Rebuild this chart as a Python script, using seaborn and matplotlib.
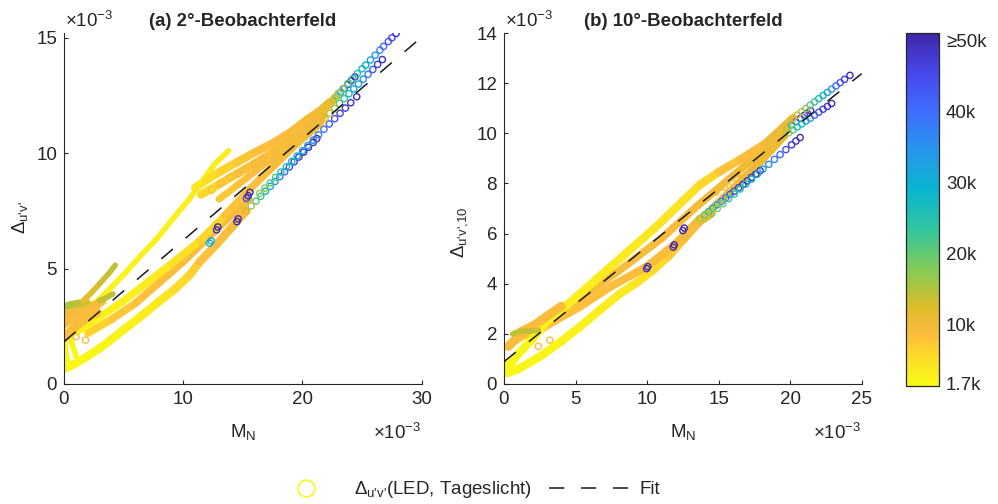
import matplotlib
matplotlib.use("Agg")
import matplotlib as mpl
import matplotlib.pyplot as plt
import numpy as np
import pandas as pd
import seaborn as sns
from matplotlib.colors import LinearSegmentedColormap, Normalize
from matplotlib.lines import Line2D

# ---------------- data: panel (a), 2° observer ----------------
# M_N and Δu'v' in units of 1e-3, CCT in K
a_spike_x = [0.4, 1.5, 2.8, 4.0, 5.3, 6.5, 7.8, 9.2, 10.5, 11.6, 12.6, 13.8]
a_spike_y = [2.9, 3.2, 3.6, 4.2, 4.9, 5.6, 6.3, 7.2, 8.0, 8.8, 9.5, 10.1]
a_spike_k = [2200, 2300, 2400, 2500, 2600, 2700, 2800, 2900, 3000, 3100, 3200, 3300]

a_up_x = [11.0, 12.0, 13.1, 14.5, 15.9, 17.6, 19.0, 20.4, 21.4, 22.3]
a_up_y = [8.5, 8.85, 9.2, 9.6, 10.0, 10.45, 10.9, 11.45, 11.8, 12.2]
a_up_k = [3500, 4500, 6000, 7000, 8000, 8500, 9000, 9500, 10000, 11000]

a_up2_x = [11.5, 13.0, 14.5, 16.0, 17.6, 19.0, 20.5, 21.6, 22.6]
a_up2_y = [8.2, 8.65, 9.1, 9.55, 10.05, 10.6, 11.25, 11.8, 12.3]
a_up2_k = [5000, 6500, 7500, 8500, 9000, 9500, 10000, 10500, 11000]

a_up3_x = [13.0, 14.5, 16.0, 17.5, 19.0, 20.5, 21.8]
a_up3_y = [8.0, 8.6, 9.2, 9.8, 10.4, 11.0, 11.6]
a_up3_k = [7000, 8000, 8500, 9000, 9500, 10000, 10500]

a_mid_x = [0.3, 1.5, 3.0, 5.0, 7.0, 9.0, 11.4, 13.5, 15.5, 17.5, 19.5, 21.5]
a_mid_y = [2.1, 2.4, 2.9, 3.6, 4.4, 5.2, 6.2, 7.3, 8.4, 9.4, 10.4, 11.3]
a_mid_k = [2000, 2200, 2500, 2800, 3200, 4000, 5500, 7000, 8500, 9000, 9500, 10000]

a_mid2_x = [2.0, 4.0, 6.0, 8.0, 10.0, 12.0, 14.0, 15.5]
a_mid2_y = [2.2, 2.8, 3.5, 4.4, 5.3, 6.3, 7.3, 8.0]
a_mid2_k = [6000, 7000, 8000, 8500, 9000, 9000, 9500, 10000]

a_low_x = [0.2, 1.0, 1.9, 3.0, 3.9, 5.0, 6.4, 7.8, 9.2, 10.5, 11.4, 12.8, 14.0, 15.3]
a_low_y = [0.68, 0.9, 1.18, 1.55, 1.9, 2.35, 2.91, 3.5, 4.07, 4.7, 5.3, 6.05, 6.75, 7.5]
a_low_k = [1700, 1800, 1900, 2000, 2200, 2500, 3000, 3500, 4500, 6000, 7500, 8500, 9000, 10000]

a_or1_x = [0.0, 0.8, 1.6, 2.4, 3.2]
a_or1_y = [2.6, 2.9, 3.1, 3.3, 3.6]
a_or1_k = [9000, 9000, 9000, 9000, 9000]

a_or2_x = [0.0, 0.6, 1.2, 2.0, 2.8]
a_or2_y = [2.0, 2.3, 2.6, 2.9, 3.1]
a_or2_k = [8000, 8500, 9000, 9000, 9000]

a_or3_x = [0.0, 0.7, 1.4, 2.1]
a_or3_y = [3.0, 3.2, 3.35, 3.45]
a_or3_k = [10000, 10000, 9500, 9500]

a_grn_x = [0.0, 0.6, 1.2, 1.9]
a_grn_y = [3.35, 3.45, 3.5, 3.55]
a_grn_k = [15000, 15000, 14000, 13000]

a_grn2_x = [3.0, 3.6, 4.1]
a_grn2_y = [3.6, 3.75, 3.9]
a_grn2_k = [14000, 14000, 14000]

a_olive_x = [1.6, 2.3, 3.0, 3.7, 4.3]
a_olive_y = [3.6, 3.95, 4.35, 4.75, 5.15]
a_olive_k = [11000, 12000, 13000, 13500, 14000]

a_loop_x = [0.05, 0.1, 0.25, 0.45, 0.3, 0.1]
a_loop_y = [2.3, 1.6, 1.1, 0.8, 0.7, 0.75]
a_loop_k = [2000, 1900, 1800, 1700, 1700, 1700]

a_loop2_x = [0.5, 0.7, 0.9, 1.0]
a_loop2_y = [2.1, 1.7, 1.4, 1.2]
a_loop2_k = [2500, 2200, 2000, 1900]

# loose orange markers scattered under the upper band
a_loose_x = [12.4, 13.2, 13.9, 14.6, 15.2, 16.0, 16.7, 1.8, 1.0]
a_loose_y = [8.4, 8.7, 8.95, 9.1, 9.3, 9.5, 9.75, 1.9, 2.05]
a_loose_k = [8500, 9000, 9000, 9500, 9500, 10000, 10000, 9000, 9000]

# high-CCT ends, drawn as single markers
a_tipA_x = [22.3, 22.7, 23.0, 23.4, 23.8, 24.2, 24.6, 25.0, 25.3, 25.7, 26.1, 26.5, 26.8, 27.2, 27.5, 27.85]
a_tipA_y = [12.20, 12.41, 12.58, 12.79, 13.01, 13.22, 13.44, 13.65, 13.81, 14.03, 14.24, 14.46, 14.62, 14.83, 14.99, 15.18]
a_tipA_k = [11000, 13000, 15000, 18000, 20000, 22000, 25000, 27000, 29000, 31000, 34000, 37000, 40000, 43000, 46000, 50000]

a_tipB_x = [21.5, 21.9, 22.3, 22.7, 23.1, 23.5, 23.9, 24.3, 24.7, 25.1, 25.5, 25.9, 26.3, 26.7]
a_tipB_y = [11.30, 11.51, 11.72, 11.93, 12.15, 12.36, 12.57, 12.78, 12.99, 13.20, 13.41, 13.62, 13.84, 14.05]
a_tipB_k = [10000, 12000, 14000, 17000, 20000, 23000, 26000, 29000, 32000, 35000, 39000, 43000, 47000, 50000]

a_tipC_x = [22.6, 22.9, 23.2, 23.5, 23.8, 24.1, 24.4]
a_tipC_y = [12.30, 12.47, 12.63, 12.80, 12.97, 13.13, 13.30]
a_tipC_k = [14000, 22000, 32000, 42000, 47000, 49000, 50000]

a_tipD_x = [16.4, 16.85, 17.3, 17.75, 18.2, 18.65, 19.1, 19.55, 20.0, 20.45, 20.9, 21.35, 21.8, 22.25, 22.7, 23.15, 23.6, 24.05, 24.55]
a_tipD_y = [8.25, 8.48, 8.71, 8.95, 9.18, 9.41, 9.64, 9.87, 10.10, 10.33, 10.56, 10.79, 11.03, 11.26, 11.49, 11.72, 11.95, 12.18, 12.44]
a_tipD_k = [16000, 18000, 20000, 22000, 24000, 26000, 28000, 30000, 32000, 34000, 36000, 38000, 40000, 42000, 44000, 46000, 48000, 49000, 50000]

a_tipE_x = [15.3, 15.7, 16.1, 16.5, 16.9, 17.3, 17.7, 18.1, 18.5, 18.9, 19.3, 19.7, 20.1, 20.5, 20.9, 21.2]
a_tipE_y = [7.50, 7.71, 7.92, 8.13, 8.35, 8.56, 8.77, 8.98, 9.19, 9.40, 9.62, 9.83, 10.04, 10.25, 10.46, 10.63]
a_tipE_k = [12000, 16000, 20000, 24000, 28000, 31000, 34000, 38000, 42000, 45000, 47000, 48000, 49000, 50000, 50000, 50000]

a_dots_x = [12.2, 12.35, 12.8, 12.9, 14.5, 14.6, 15.3, 15.45, 15.6]
a_dots_y = [6.1, 6.2, 6.67, 6.8, 7.03, 7.15, 8.04, 8.15, 8.3]
a_dots_k = [30000, 32000, 50000, 50000, 50000, 50000, 45000, 50000, 50000]

a_fit_x = [0.0, 30.0]
a_fit_y = [1.83, 15.02]

# ---------------- data: panel (b), 10° observer ----------------
b_up_x = [0.2, 1.0, 2.0, 3.0, 4.5, 6.5, 8.5, 10.5, 12.5, 13.7, 15.0, 16.5, 18.3, 20.2]
b_up_y = [0.6, 1.2, 1.8, 2.5, 3.2, 4.2, 5.2, 6.2, 7.3, 7.95, 8.45, 8.95, 9.6, 10.6]
b_up_k = [1800, 2000, 2200, 2500, 2800, 3200, 3600, 4000, 4500, 5000, 7000, 8500, 9500, 11000]

b_mid_x = [0.4, 1.5, 3.0, 5.3, 7.5, 10.0, 12.0, 14.0, 16.0, 18.0, 19.6]
b_mid_y = [1.6, 1.95, 2.5, 3.1, 3.9, 4.7, 5.6, 6.7, 7.8, 8.9, 9.9]
b_mid_k = [6000, 7000, 7500, 8000, 8500, 9000, 9000, 9500, 10000, 10500, 11000]

b_mid2_x = [0.8, 2.5, 5.0, 8.0, 11.0, 13.5, 16.0, 18.3, 19.8]
b_mid2_y = [2.0, 2.5, 3.3, 4.5, 5.8, 7.1, 8.3, 9.4, 10.2]
b_mid2_k = [8000, 8500, 9000, 9000, 9000, 9500, 10000, 10500, 11000]

b_low_x = [0.2, 1.0, 2.5, 4.0, 5.3, 6.7, 8.1, 9.3, 10.4, 11.5, 12.6, 13.7, 14.5]
b_low_y = [0.43, 0.6, 1.09, 1.7, 2.28, 2.95, 3.6, 4.05, 4.53, 5.1, 5.8, 6.5, 6.8]
b_low_k = [1700, 1800, 2000, 2300, 2600, 3000, 3500, 4000, 5000, 6500, 8000, 10000, 14000]

b_low2_x = [1.8, 3.5, 5.3, 7.5, 9.97, 12.0, 13.7]
b_low2_y = [1.9, 2.5, 3.07, 3.9, 4.66, 5.6, 6.6]
b_low2_k = [8000, 8500, 8500, 9000, 9000, 9500, 10000]

b_grn_x = [0.6, 1.2, 1.8, 2.4]
b_grn_y = [2.0, 2.1, 2.1, 2.15]
b_grn_k = [14000, 14000, 14000, 13000]

b_or_x = [0.3, 1.0, 2.0, 3.0, 4.0]
b_or_y = [1.5, 1.9, 2.3, 2.7, 3.1]
b_or_k = [9000, 9000, 9000, 9000, 9000]

b_foot_x = [0.0, 0.2, 0.5, 0.8]
b_foot_y = [0.9, 0.5, 0.45, 0.5]
b_foot_k = [1800, 1700, 1700, 1700]

b_loose_x = [14.8, 15.4, 16.0, 16.6, 2.4, 3.2]
b_loose_y = [7.65, 7.85, 8.0, 8.2, 1.5, 1.75]
b_loose_k = [9000, 9500, 9500, 10000, 9000, 9000]

b_tipA_x = [20.2, 20.5, 20.8, 21.1, 21.4, 21.7, 22.0, 22.3, 22.6, 22.9, 23.2, 23.5, 23.8, 24.18]
b_tipA_y = [10.60, 10.73, 10.86, 10.99, 11.12, 11.25, 11.38, 11.51, 11.63, 11.76, 11.89, 12.02, 12.15, 12.31]
b_tipA_k = [11000, 13000, 15000, 17000, 20000, 23000, 26000, 29000, 32000, 35000, 39000, 43000, 47000, 50000]

b_tipB_x = [19.6, 19.9, 20.2, 20.5, 20.8, 21.1, 21.4, 21.7, 22.0, 22.3, 22.6, 22.9]
b_tipB_y = [9.90, 10.02, 10.13, 10.25, 10.37, 10.49, 10.60, 10.72, 10.84, 10.96, 11.07, 11.19]
b_tipB_k = [12000, 16000, 20000, 24000, 28000, 32000, 36000, 40000, 44000, 47000, 49000, 50000]

b_tipC_x = [19.8, 20.1, 20.4, 20.7, 21.0, 21.2, 21.43]
b_tipC_y = [10.20, 10.33, 10.46, 10.59, 10.72, 10.80, 10.90]
b_tipC_k = [14000, 25000, 38000, 45000, 48000, 49000, 50000]

b_tipD_x = [14.5, 14.9, 15.3, 15.7, 16.1, 16.5, 16.9, 17.3, 17.7, 18.1, 18.5, 18.9, 19.3, 19.7, 20.1, 20.4, 20.7]
b_tipD_y = [6.80, 7.00, 7.19, 7.39, 7.58, 7.78, 7.98, 8.17, 8.37, 8.57, 8.76, 8.96, 9.15, 9.35, 9.54, 9.69, 9.83]
b_tipD_k = [16000, 18000, 20000, 22000, 24000, 26000, 28000, 30000, 32000, 34000, 36000, 38000, 41000, 44000, 47000, 49000, 50000]

b_tipE_x = [13.7, 14.0, 14.3, 14.6, 14.9, 15.2, 15.5, 15.8, 16.1, 16.4, 16.7, 17.0, 17.3, 17.6, 17.9]
b_tipE_y = [6.60, 6.74, 6.87, 7.01, 7.15, 7.28, 7.42, 7.56, 7.69, 7.83, 7.96, 8.10, 8.24, 8.37, 8.51]
b_tipE_k = [16000, 20000, 24000, 28000, 32000, 36000, 40000, 43000, 46000, 48000, 49000, 50000, 50000, 50000, 50000]

b_dots_x = [9.97, 10.05, 11.83, 11.9, 12.5, 12.6]
b_dots_y = [4.6, 4.68, 5.46, 5.55, 6.12, 6.22]
b_dots_k = [50000, 50000, 50000, 50000, 50000, 50000]

b_fit_x = [0.0, 25.0]
b_fit_y = [0.89, 12.38]

# colorbar ticks
cct_ticks = [1700, 10000, 20000, 30000, 40000, 50000]
cct_labels = ["1.7k", "10k", "20k", "30k", "40k", "\u226550k"]
cct_min, cct_max = 1300, 51000

# ---------------- style ----------------
sns.set_theme(style="white")
plt.rcParams["font.family"] = ["Liberation Sans", "DejaVu Sans"]
plt.rcParams["mathtext.fontset"] = "custom"
plt.rcParams["mathtext.rm"] = "Liberation Sans"
plt.rcParams["mathtext.it"] = "Liberation Sans:italic"
plt.rcParams["mathtext.bf"] = "Liberation Sans:bold"
plt.rcParams["mathtext.sf"] = "Liberation Sans"
plt.rcParams["lines.scale_dashes"] = False

FS = 13.5
INK = "0.15"

# parula-like colour ramp, reversed (yellow = low CCT, dark blue = high CCT)
parula_pts = [
    (0.000, (0.2422, 0.1504, 0.6603)),
    (0.111, (0.2803, 0.2782, 0.9221)),
    (0.222, (0.2440, 0.4358, 0.9988)),
    (0.333, (0.1540, 0.5902, 0.9218)),
    (0.444, (0.0297, 0.7082, 0.8163)),
    (0.556, (0.1938, 0.7758, 0.6251)),
    (0.667, (0.5044, 0.7993, 0.3480)),
    (0.778, (0.8634, 0.7406, 0.1596)),
    (0.825, (0.9490, 0.7296, 0.2164)),
    (0.857, (0.9935, 0.7441, 0.2394)),
    (0.873, (0.9990, 0.7653, 0.2216)),
    (0.889, (0.9892, 0.8136, 0.1885)),
    (1.000, (0.9769, 0.9839, 0.0805)),
]
cmap = LinearSegmentedColormap.from_list(
    "parula_r", [(1 - p, c) for p, c in reversed(parula_pts)])
norm = Normalize(vmin=cct_min, vmax=cct_max)


def segments(xs, ys, ks):
    """Split a trajectory into two-point pieces, each coloured by its mean CCT."""
    rows = []
    for i in range(len(xs) - 1):
        k = 0.5 * (ks[i] + ks[i + 1])
        rows.append((i, xs[i], ys[i], k))
        rows.append((i, xs[i + 1], ys[i + 1], k))
    return pd.DataFrame(rows, columns=["seg", "x", "y", "cct"])


def band(ax, xs, ys, ks, lw):
    df = segments(xs, ys, ks)
    sns.lineplot(data=df, x="x", y="y", units="seg", hue="cct", palette=cmap,
                 hue_norm=norm, estimator=None, sort=False, linewidth=lw,
                 solid_capstyle="round", legend=False, ax=ax, zorder=2)


def markers(ax, xs, ys, ks, z=4):
    sns.scatterplot(x=xs, y=ys, hue=ks, palette=cmap, hue_norm=norm, s=20,
                    linewidth=1.0, legend=False, ax=ax, zorder=z)
    pc = ax.collections[-1]
    pc.set_edgecolors(pc.get_facecolors())
    pc.set_facecolors("none")


def fit_line(ax, xs, ys):
    sns.lineplot(x=xs, y=ys, color="k", linewidth=1.1,
                 linestyle=(0, (11, 12)), ax=ax, zorder=5)


fig = plt.figure(figsize=(9.98, 5.04), dpi=100)
axa = fig.add_axes([64 / 998, 120 / 504, 357.7 / 998, 351 / 504])
axb = fig.add_axes([504 / 998, 120 / 504, 357.7 / 998, 351 / 504])
cax = fig.add_axes([905.7 / 998, 118 / 504, 33.3 / 998, 352.7 / 504])

# ---- panel (a)
band(axa, a_low_x, a_low_y, a_low_k, 6.0)
band(axa, a_mid2_x, a_mid2_y, a_mid2_k, 5.5)
band(axa, a_mid_x, a_mid_y, a_mid_k, 5.5)
band(axa, a_up3_x, a_up3_y, a_up3_k, 5.0)
band(axa, a_spike_x, a_spike_y, a_spike_k, 4.0)
band(axa, a_up2_x, a_up2_y, a_up2_k, 6.0)
band(axa, a_up_x, a_up_y, a_up_k, 6.0)
band(axa, a_loop_x, a_loop_y, a_loop_k, 4.0)
band(axa, a_loop2_x, a_loop2_y, a_loop2_k, 4.0)
band(axa, a_or2_x, a_or2_y, a_or2_k, 6.5)
band(axa, a_or1_x, a_or1_y, a_or1_k, 6.5)
band(axa, a_or3_x, a_or3_y, a_or3_k, 5.0)
band(axa, a_grn_x, a_grn_y, a_grn_k, 5.0)
band(axa, a_grn2_x, a_grn2_y, a_grn2_k, 4.0)
band(axa, a_olive_x, a_olive_y, a_olive_k, 4.0)
markers(axa, a_loose_x, a_loose_y, a_loose_k, z=3)
for xs, ys, ks in [(a_tipE_x, a_tipE_y, a_tipE_k), (a_tipD_x, a_tipD_y, a_tipD_k),
                   (a_tipC_x, a_tipC_y, a_tipC_k), (a_tipB_x, a_tipB_y, a_tipB_k),
                   (a_tipA_x, a_tipA_y, a_tipA_k), (a_dots_x, a_dots_y, a_dots_k)]:
    markers(axa, xs, ys, ks)
fit_line(axa, a_fit_x, a_fit_y)

# ---- panel (b)
band(axb, b_low_x, b_low_y, b_low_k, 6.0)
band(axb, b_low2_x, b_low2_y, b_low2_k, 5.5)
band(axb, b_mid_x, b_mid_y, b_mid_k, 5.5)
band(axb, b_mid2_x, b_mid2_y, b_mid2_k, 5.5)
band(axb, b_up_x, b_up_y, b_up_k, 6.0)
band(axb, b_foot_x, b_foot_y, b_foot_k, 4.0)
band(axb, b_or_x, b_or_y, b_or_k, 6.5)
band(axb, b_grn_x, b_grn_y, b_grn_k, 4.0)
markers(axb, b_loose_x, b_loose_y, b_loose_k, z=3)
for xs, ys, ks in [(b_tipE_x, b_tipE_y, b_tipE_k), (b_tipD_x, b_tipD_y, b_tipD_k),
                   (b_tipC_x, b_tipC_y, b_tipC_k), (b_tipB_x, b_tipB_y, b_tipB_k),
                   (b_tipA_x, b_tipA_y, b_tipA_k), (b_dots_x, b_dots_y, b_dots_k)]:
    markers(axb, xs, ys, ks)
fit_line(axb, b_fit_x, b_fit_y)

# ---- axes cosmetics
axa.set_xlim(0, 30)
axa.set_ylim(0, 15.2)
axa.set_xticks([0, 10, 20, 30])
axa.set_yticks([0, 5, 10, 15])
axb.set_xlim(0, 25)
axb.set_ylim(0, 14)
axb.set_xticks([0, 5, 10, 15, 20, 25])
axb.set_yticks([0, 2, 4, 6, 8, 10, 12, 14])

for ax in (axa, axb):
    sns.despine(ax=ax)
    for side in ("left", "bottom"):
        ax.spines[side].set_color(INK)
        ax.spines[side].set_linewidth(0.8)
    ax.tick_params(direction="in", length=2.6, width=0.8, colors=INK,
                   labelsize=FS, pad=5, left=True, bottom=True)
    ax.set_xlabel(r"$\mathregular{M_N}$", fontsize=FS, color=INK)
    ax.xaxis.set_label_coords(0.5, -0.108)

axa.set_ylabel(r"$\Delta_{\text{u'v'}}$", fontsize=FS, color=INK)
axa.yaxis.set_label_coords(-0.095, 0.473)
axb.set_ylabel(r"$\Delta_{\text{u'v',10}}$", fontsize=FS, color=INK)
axb.yaxis.set_label_coords(-0.095, 0.433)

axa.set_title("(a) 2°-Beobachterfeld", fontsize=13.4, fontweight="bold", pad=5)
axb.set_title("(b) 10°-Beobachterfeld", fontsize=13.4, fontweight="bold", pad=5)

exp_txt = r"$\times\mathregular{10^{-3}}$"
for x0 in (65, 505):
    fig.text(x0 / 998, 1 - 21 / 504, exp_txt, ha="left", va="center",
             fontsize=FS, color=INK)
for x1 in (421, 861):
    fig.text(x1 / 998, 1 - 433 / 504, exp_txt, ha="right", va="center",
             fontsize=FS, color=INK)

# ---- colour bar
cb = fig.colorbar(mpl.cm.ScalarMappable(norm=norm, cmap=cmap), cax=cax,
                  ticks=cct_ticks)
cb.ax.set_yticklabels(cct_labels)
cb.outline.set_edgecolor(INK)
cb.outline.set_linewidth(0.9)
cax.tick_params(direction="in", length=3, width=0.8, colors=INK,
                labelsize=FS, pad=5, right=True, left=False)

# ---- legend
handles = [
    Line2D([], [], ls="none", marker="o", ms=12, mfc="none", mew=1.2,
           mec=cmap(norm(1700))),
    Line2D([], [], color="k", lw=1.1, ls=(0, (11, 12))),
]
labels = [r"$\Delta_{\text{u'v'}}$(LED, Tageslicht)", "Fit"]
fig.legend(handles, labels, loc="center", bbox_to_anchor=(462 / 998, 1 - 490 / 504),
           ncol=2, frameon=False, fontsize=FS, handlelength=4.5,
           handletextpad=0.35, columnspacing=0.9, borderaxespad=0)

fig.savefig("out.png", dpi=100)
